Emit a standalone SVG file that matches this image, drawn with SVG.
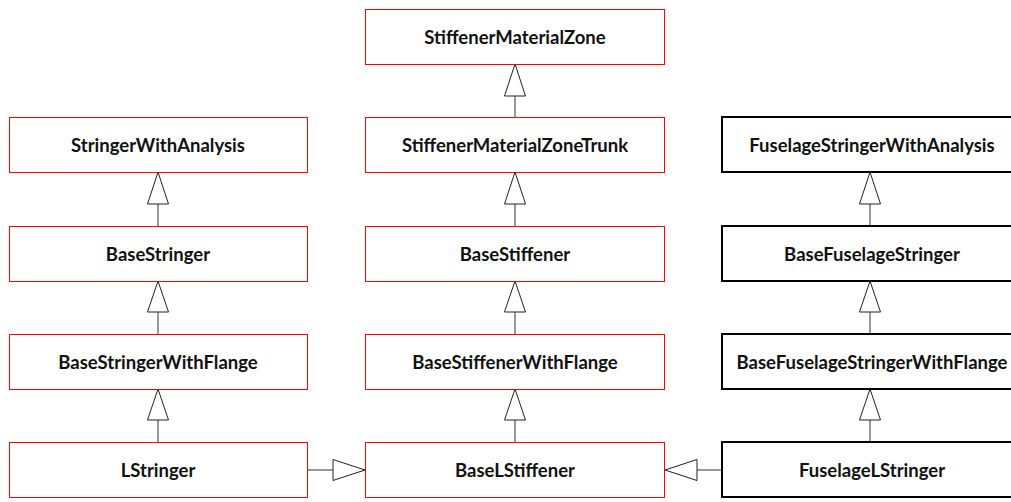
<svg xmlns="http://www.w3.org/2000/svg" width="1011" height="502" viewBox="0 0 1011 502">
  <style>
    .box { fill: #ffffff; stroke: #ff0000; stroke-width: 1; }
    .box.ext { stroke: #000000; stroke-width: 2; }
    .label { font-family: Lato, "Liberation Sans", sans-serif; font-weight: bold; font-size: 18.5px; fill: #111111; text-anchor: middle; dominant-baseline: central; }
    .edge { stroke: #333333; stroke-width: 1; fill: none; }
    .head { fill: #ffffff; stroke: #222222; stroke-width: 1; }
  </style>
  <rect width="1011" height="502" fill="#ffffff"/>

  <!-- generalization connectors: line + hollow triangle at the parent -->
  <g id="connectors">
    <!-- left column -->
    <line class="edge" x1="158" y1="204" x2="158" y2="226"/>
    <polygon class="head" points="158,172 147.5,204 168.5,204"/>
    <line class="edge" x1="158" y1="312" x2="158" y2="334"/>
    <polygon class="head" points="158,281 147.5,312 168.5,312"/>
    <line class="edge" x1="158" y1="420" x2="158" y2="442"/>
    <polygon class="head" points="158,389 147.5,420 168.5,420"/>
    <!-- middle column -->
    <line class="edge" x1="515" y1="96" x2="515" y2="117"/>
    <polygon class="head" points="515,64 504.5,96 525.5,96"/>
    <line class="edge" x1="515" y1="204" x2="515" y2="226"/>
    <polygon class="head" points="515,172 504.5,204 525.5,204"/>
    <line class="edge" x1="515" y1="312" x2="515" y2="334"/>
    <polygon class="head" points="515,281 504.5,312 525.5,312"/>
    <line class="edge" x1="515" y1="420" x2="515" y2="442"/>
    <polygon class="head" points="515,389 504.5,420 525.5,420"/>
    <!-- right column -->
    <line class="edge" x1="870" y1="204" x2="870" y2="226"/>
    <polygon class="head" points="870,172 859.5,204 880.5,204"/>
    <line class="edge" x1="870" y1="312" x2="870" y2="334"/>
    <polygon class="head" points="870,281 859.5,312 880.5,312"/>
    <line class="edge" x1="870" y1="420" x2="870" y2="442"/>
    <polygon class="head" points="870,389 859.5,420 880.5,420"/>
    <!-- bottom row, horizontal -->
    <line class="edge" x1="307" y1="470" x2="333" y2="470"/>
    <polygon class="head" points="365,470 333,459.5 333,480.5"/>
    <line class="edge" x1="697" y1="470" x2="721" y2="470"/>
    <polygon class="head" points="665,470 697,459.5 697,480.5"/>
  </g>

  <!-- left column -->
  <g id="StringerWithAnalysis">
    <rect class="box" x="9.5" y="117.5" width="298" height="55"/>
    <text class="label" x="158" y="145">StringerWithAnalysis</text>
  </g>
  <g id="BaseStringer">
    <rect class="box" x="9.5" y="226.5" width="298" height="55"/>
    <text class="label" x="158" y="254">BaseStringer</text>
  </g>
  <g id="BaseStringerWithFlange">
    <rect class="box" x="9.5" y="334.5" width="298" height="55"/>
    <text class="label" x="158" y="362">BaseStringerWithFlange</text>
  </g>
  <g id="LStringer">
    <rect class="box" x="9.5" y="442.5" width="298" height="55"/>
    <text class="label" x="158" y="470">LStringer</text>
  </g>

  <!-- middle column -->
  <g id="StiffenerMaterialZone">
    <rect class="box" x="365.5" y="9.5" width="299" height="55"/>
    <text class="label" x="515" y="37">StiffenerMaterialZone</text>
  </g>
  <g id="StiffenerMaterialZoneTrunk">
    <rect class="box" x="365.5" y="117.5" width="299" height="55"/>
    <text class="label" x="515" y="145">StiffenerMaterialZoneTrunk</text>
  </g>
  <g id="BaseStiffener">
    <rect class="box" x="365.5" y="226.5" width="299" height="55"/>
    <text class="label" x="515" y="254">BaseStiffener</text>
  </g>
  <g id="BaseStiffenerWithFlange">
    <rect class="box" x="365.5" y="334.5" width="299" height="55"/>
    <text class="label" x="515" y="362">BaseStiffenerWithFlange</text>
  </g>
  <g id="BaseLStiffener">
    <rect class="box" x="365.5" y="442.5" width="299" height="55"/>
    <text class="label" x="515" y="470">BaseLStiffener</text>
  </g>

  <!-- right column -->
  <g id="FuselageStringerWithAnalysis">
    <rect class="box ext" x="722" y="117" width="298" height="55"/>
    <text class="label" x="872" y="145">FuselageStringerWithAnalysis</text>
  </g>
  <g id="BaseFuselageStringer">
    <rect class="box ext" x="722" y="226" width="298" height="55"/>
    <text class="label" x="872" y="254">BaseFuselageStringer</text>
  </g>
  <g id="BaseFuselageStringerWithFlange">
    <rect class="box ext" x="722" y="334" width="298" height="55"/>
    <text class="label" x="872" y="362">BaseFuselageStringerWithFlange</text>
  </g>
  <g id="FuselageLStringer">
    <rect class="box ext" x="722" y="442" width="298" height="55"/>
    <text class="label" x="872" y="470">FuselageLStringer</text>
  </g>
</svg>
